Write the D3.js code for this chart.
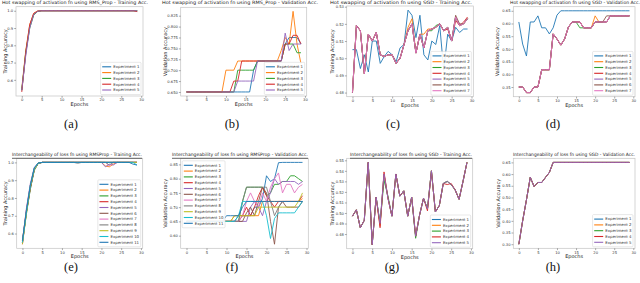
<!DOCTYPE html>
<html><head><meta charset="utf-8">
<script src="https://cdn.jsdelivr.net/npm/d3@7/dist/d3.min.js"></script>
<style>body{margin:0;background:#fff}svg{display:block}</style>
</head><body>
<svg id="c" width="640" height="283"></svg>
<script>
// ---------- shared ----------
const epochs = [0,1,2,3,4,5,6,7,8,9,10,11,12,13,14,15,16,17,18,19,20,21,22,23,24,25,26,27,28,29];
const xTicks = [0,5,10,15,20,25,30];
const expNames = ["Experiment 1","Experiment 2","Experiment 3","Experiment 4","Experiment 5","Experiment 6","Experiment 7","Experiment 8","Experiment 9","Experiment 10","Experiment 11"];
const palette = ["#1f77b4","#ff7f0e","#2ca02c","#d62728","#9467bd","#8c564b","#e377c2","#7f7f7f","#bcbd22","#17becf","#1f77b4"];

// ---------- (a) RMS_Prop activation swap, training ----------
const aExp1 = [0.54,0.75,0.91,0.98,0.997,1,1,1,1,1,1,1,1,1,1,1,1,1,1,1,1,1,1,1,1,1,1,1,1,1];
const aExp2 = [0.55,0.77,0.92,0.985,0.999,1,1,1,1,1,1,1,1,1,1,1,1,1,1,1,1,1,1,1,1,1,1,1,1,1];
const aExp3 = [0.54,0.76,0.90,0.975,0.996,1,1,1,1,1,1,1,1,1,1,1,1,1,1,1,1,1,1,1,1,1,1,1,1,1];
const aExp4 = [0.53,0.76,0.92,0.985,0.998,1,1,1,1,1,1,1,1,1,1,1,1,1,1,1,1,1,1,1,1,1,1,1,1,0.995];
const aExp5 = [0.54,0.74,0.90,0.978,0.997,1,1,1,1,1,1,1,1,1,1,1,1,1,1,1,1,1,1,1,1,1,1,1,1,1];
const aTicks = [0.6,0.7,0.8,0.9,1.0];

// ---------- (b) RMS_Prop activation swap, validation ----------
const bExp1 = [0.65,0.65,0.65,0.65,0.65,0.65,0.65,0.65,0.65,0.65,0.65,0.65,0.65,0.65,0.65,0.65,0.65,0.70,0.721,0.721,0.721,0.721,0.721,0.721,0.721,0.76,0.775,0.775,0.775,0.76];
const bExp2 = [0.65,0.65,0.65,0.65,0.65,0.65,0.65,0.65,0.65,0.65,0.70,0.70,0.70,0.721,0.721,0.721,0.721,0.721,0.721,0.721,0.721,0.721,0.721,0.721,0.745,0.775,0.76,0.835,0.76,0.715];
const bExp3 = [0.65,0.65,0.65,0.65,0.65,0.65,0.65,0.65,0.65,0.65,0.65,0.65,0.65,0.70,0.70,0.70,0.70,0.70,0.721,0.721,0.721,0.721,0.721,0.721,0.721,0.76,0.76,0.76,0.74,0.74];
const bExp4 = [0.65,0.65,0.65,0.65,0.65,0.65,0.65,0.65,0.65,0.65,0.65,0.65,0.675,0.675,0.721,0.721,0.721,0.721,0.721,0.721,0.721,0.721,0.721,0.721,0.721,0.76,0.76,0.78,0.78,0.76];
const bExp5 = [0.65,0.65,0.65,0.65,0.65,0.65,0.65,0.65,0.65,0.65,0.65,0.65,0.65,0.675,0.675,0.675,0.675,0.675,0.721,0.721,0.721,0.721,0.721,0.721,0.721,0.785,0.745,0.76,0.76,0.76];
const bTicks = [0.650,0.675,0.700,0.725,0.750,0.775,0.800,0.825];

// ---------- (c) SGD activation swap, training ----------
const cExp1 = [0.505,0.505,0.494,0.502,0.492,0.510,0.510,0.497,0.501,0.504,0.502,0.498,0.506,0.508,0.528,0.525,0.512,0.525,0.502,0.499,0.510,0.508,0.519,0.493,0.514,0.510,0.518,0.515,0.517,0.517];
const cExp2 = [0.480,0.519,0.516,0.491,0.514,0.510,0.515,0.502,0.501,0.502,0.502,0.497,0.500,0.508,0.518,0.523,0.503,0.514,0.514,0.517,0.517,0.518,0.520,0.516,0.518,0.510,0.524,0.519,0.520,0.523];
const cExp3 = [0.480,0.519,0.516,0.491,0.514,0.510,0.515,0.502,0.501,0.502,0.502,0.497,0.500,0.508,0.516,0.520,0.503,0.514,0.506,0.516,0.516,0.519,0.520,0.516,0.518,0.510,0.524,0.519,0.520,0.523];
const cExp4 = [0.480,0.519,0.516,0.491,0.514,0.510,0.515,0.502,0.501,0.502,0.502,0.497,0.500,0.508,0.516,0.520,0.503,0.514,0.506,0.516,0.517,0.518,0.520,0.516,0.517,0.510,0.522,0.519,0.521,0.524];
const cExp5 = [0.480,0.519,0.516,0.491,0.514,0.510,0.515,0.502,0.501,0.502,0.502,0.497,0.500,0.508,0.516,0.520,0.503,0.514,0.506,0.516,0.517,0.518,0.520,0.516,0.518,0.510,0.524,0.519,0.520,0.523];
const cExp6 = [0.480,0.519,0.516,0.491,0.514,0.510,0.515,0.502,0.501,0.502,0.502,0.497,0.500,0.508,0.516,0.520,0.503,0.514,0.506,0.516,0.517,0.518,0.520,0.516,0.518,0.510,0.525,0.520,0.520,0.523];
const cExp7 = [0.480,0.519,0.516,0.491,0.514,0.510,0.515,0.502,0.501,0.502,0.502,0.497,0.500,0.508,0.516,0.520,0.503,0.514,0.506,0.516,0.517,0.518,0.520,0.516,0.518,0.510,0.524,0.519,0.520,0.523];
const cTicks = [0.48,0.49,0.50,0.51,0.52,0.53];

// ---------- (d) SGD activation swap, validation ----------
const dExp1 = [0.606,0.519,0.472,0.606,0.606,0.630,0.583,0.583,0.559,0.583,0.633,0.65,0.65,0.65,0.65,0.65,0.65,0.65,0.65,0.65,0.65,0.65,0.65,0.65,0.65,0.65,0.65,0.65,0.65,0.65];
const dExp2 = [0.35,0.35,0.328,0.328,0.35,0.35,0.418,0.418,0.418,0.559,0.539,0.515,0.539,0.586,0.606,0.606,0.606,0.583,0.583,0.583,0.630,0.606,0.606,0.606,0.630,0.630,0.630,0.630,0.630,0.630];
const dExp3 = [0.35,0.35,0.328,0.328,0.35,0.35,0.418,0.418,0.418,0.559,0.539,0.515,0.539,0.586,0.606,0.606,0.583,0.583,0.583,0.583,0.606,0.606,0.606,0.606,0.630,0.630,0.630,0.630,0.630,0.630];
const dExp4 = [0.35,0.35,0.328,0.328,0.35,0.35,0.418,0.418,0.418,0.559,0.539,0.515,0.539,0.586,0.606,0.606,0.606,0.583,0.583,0.583,0.606,0.606,0.606,0.606,0.630,0.630,0.630,0.630,0.630,0.630];
const dExp5 = [0.35,0.35,0.328,0.328,0.35,0.35,0.418,0.418,0.418,0.559,0.539,0.515,0.539,0.586,0.606,0.606,0.606,0.583,0.583,0.583,0.606,0.606,0.606,0.606,0.630,0.630,0.630,0.630,0.630,0.630];
const dExp6 = [0.35,0.35,0.328,0.328,0.35,0.35,0.418,0.418,0.418,0.559,0.539,0.515,0.539,0.586,0.606,0.606,0.606,0.583,0.583,0.583,0.606,0.606,0.606,0.630,0.630,0.630,0.630,0.630,0.630,0.630];
const dExp7 = [0.35,0.35,0.328,0.328,0.35,0.35,0.418,0.418,0.418,0.559,0.539,0.515,0.539,0.586,0.606,0.606,0.606,0.583,0.583,0.583,0.606,0.606,0.606,0.606,0.630,0.630,0.630,0.630,0.630,0.630];
const dTicks = [0.35,0.40,0.45,0.50,0.55,0.60,0.65];

// ---------- (e) RMSProp loss interchange, training ----------
const eExp1  = [0.55,0.72,0.86,0.96,0.995,1,1,1,1,1,1,1,1,1,1,1,1,1,1,1,1,1,1,1,1,1,1,1,1,1];
const eExp2  = [0.56,0.73,0.87,0.965,0.996,1,1,1,1,1,1,1,1,1,1,1,1,1,1,1,1,0.98,0.975,0.99,1,1,1,1,1,1];
const eExp3  = [0.55,0.71,0.85,0.955,0.994,1,1,1,1,1,1,1,1,1,1,1,1,1,1,1,1,1,0.985,1,1,1,1,1,1,1];
const eExp4  = [0.54,0.72,0.86,0.96,0.995,1,1,1,1,1,1,1,1,1,1,1,1,1,1,1,1,1,1,1,1,1,1,1,1,1];
const eExp5  = [0.55,0.74,0.88,0.97,0.997,1,1,1,1,1,1,1,1,1,1,1,1,1,1,1,1,0.975,0.99,0.985,1,1,1,1,1,1];
const eExp6  = [0.56,0.72,0.85,0.96,0.994,1,1,1,1,1,1,1,1,1,1,1,1,1,1,1,1,1,1,1,1,1,1,1,1,1];
const eExp7  = [0.55,0.73,0.87,0.965,0.996,1,1,1,1,1,1,1,1,1,1,1,1,1,1,1,1,1,0.98,1,1,1,1,1,1,1];
const eExp8  = [0.55,0.72,0.86,0.96,0.995,1,1,1,1,1,1,1,1,1,0.995,1,1,1,1,1,1,1,1,1,1,1,1,1,1,1];
const eExp9  = [0.54,0.71,0.86,0.96,0.995,1,1,1,1,1,1,1,1,1,1,1,1,1,1,1,1,1,1,1,1,1,1,1,1,1];
const eExp10 = [0.55,0.72,0.87,0.965,0.996,1,1,1,1,1,1,1,1,1,1,1,1,1,1,1,1,1,1,1,1,1,1,1,1,0.985];
const eExp11 = [0.56,0.73,0.87,0.97,0.997,1,1,1,1,1,1,1,1,1,1,1,1,1,1,1,1,1,1,1,1,1,1,1,0.99,0.985];
const eTicks = [0.6,0.7,0.8,0.9,1.0];

// ---------- (f) RMSProp loss interchange, validation ----------
const fExp1  = [0.65,0.65,0.65,0.65,0.65,0.65,0.65,0.65,0.65,0.65,0.65,0.65,0.65,0.67,0.67,0.67,0.67,0.70,0.70,0.73,0.81,0.79,0.80,0.856,0.857,0.857,0.857,0.857,0.857,0.857];
const fExp2  = [0.65,0.65,0.65,0.65,0.65,0.65,0.65,0.65,0.65,0.65,0.65,0.65,0.67,0.67,0.67,0.67,0.67,0.67,0.67,0.72,0.72,0.72,0.72,0.72,0.72,0.72,0.72,0.72,0.72,0.73];
const fExp3  = [0.65,0.65,0.65,0.65,0.65,0.65,0.65,0.65,0.65,0.65,0.65,0.65,0.65,0.65,0.72,0.77,0.77,0.77,0.77,0.77,0.74,0.75,0.78,0.78,0.79,0.79,0.81,0.81,0.80,0.79];
const fExp4  = [0.65,0.65,0.65,0.65,0.65,0.65,0.65,0.65,0.65,0.65,0.65,0.65,0.65,0.65,0.67,0.70,0.67,0.70,0.74,0.77,0.74,0.72,0.70,0.72,0.72,0.72,0.72,0.72,0.72,0.74];
const fExp5  = [0.65,0.65,0.65,0.65,0.65,0.65,0.65,0.65,0.65,0.65,0.65,0.65,0.65,0.65,0.65,0.65,0.70,0.72,0.70,0.67,0.72,0.75,0.80,0.78,0.79,0.79,0.79,0.79,0.78,0.79];
const fExp6  = [0.65,0.65,0.65,0.65,0.65,0.65,0.65,0.65,0.65,0.65,0.65,0.65,0.65,0.65,0.65,0.68,0.70,0.67,0.72,0.77,0.75,0.65,0.57,0.70,0.72,0.70,0.70,0.70,0.70,0.72];
const fExp7  = [0.65,0.65,0.65,0.65,0.65,0.65,0.65,0.65,0.65,0.65,0.65,0.65,0.65,0.65,0.67,0.72,0.75,0.72,0.70,0.75,0.72,0.77,0.80,0.82,0.75,0.78,0.78,0.75,0.77,0.78];
const fExp8  = [0.65,0.65,0.65,0.65,0.65,0.65,0.65,0.65,0.65,0.65,0.65,0.65,0.65,0.65,0.72,0.77,0.77,0.77,0.77,0.77,0.77,0.72,0.67,0.70,0.72,0.72,0.72,0.72,0.72,0.72];
const fExp9  = [0.65,0.65,0.65,0.65,0.65,0.65,0.65,0.65,0.65,0.65,0.65,0.65,0.67,0.67,0.67,0.67,0.67,0.67,0.70,0.70,0.70,0.70,0.70,0.70,0.70,0.70,0.70,0.70,0.72,0.75];
const fExp10 = [0.65,0.65,0.65,0.65,0.65,0.65,0.65,0.65,0.65,0.65,0.65,0.65,0.65,0.67,0.72,0.72,0.72,0.72,0.72,0.72,0.67,0.59,0.66,0.68,0.68,0.68,0.68,0.68,0.70,0.72];
const fExp11 = [0.65,0.65,0.65,0.65,0.65,0.65,0.65,0.65,0.65,0.65,0.67,0.67,0.67,0.67,0.70,0.72,0.72,0.72,0.72,0.72,0.72,0.72,0.72,0.72,0.72,0.72,0.72,0.72,0.72,0.72];
const fTicks = [0.60,0.65,0.70,0.75,0.80,0.85];

// ---------- (g) SGD loss interchange, training ----------
const gExp1 = [0.497,0.503,0.486,0.493,0.548,0.470,0.515,0.490,0.537,0.514,0.497,0.537,0.516,0.521,0.497,0.515,0.478,0.498,0.514,0.504,0.540,0.501,0.507,0.528,0.530,0.527,0.522,0.513,0.530,0.548];
const gExp2 = [0.497,0.503,0.486,0.493,0.548,0.470,0.515,0.488,0.537,0.514,0.497,0.537,0.516,0.521,0.497,0.515,0.478,0.498,0.514,0.504,0.540,0.501,0.507,0.528,0.530,0.527,0.522,0.513,0.530,0.548];
const gExp3 = [0.497,0.503,0.486,0.493,0.548,0.470,0.515,0.490,0.531,0.516,0.497,0.537,0.516,0.521,0.497,0.515,0.476,0.498,0.514,0.504,0.540,0.501,0.507,0.528,0.530,0.527,0.522,0.513,0.530,0.548];
const gExp4 = [0.497,0.503,0.486,0.493,0.548,0.470,0.515,0.486,0.539,0.514,0.497,0.537,0.516,0.521,0.497,0.515,0.478,0.498,0.514,0.502,0.540,0.501,0.507,0.528,0.527,0.528,0.522,0.513,0.530,0.548];
const gExp5 = [0.497,0.503,0.486,0.493,0.548,0.470,0.515,0.490,0.537,0.514,0.497,0.537,0.516,0.521,0.497,0.515,0.478,0.498,0.514,0.504,0.540,0.501,0.507,0.528,0.530,0.527,0.522,0.513,0.530,0.548];
const gTicks = [0.48,0.49,0.50,0.51,0.52,0.53,0.54,0.55];

// ---------- (h) SGD loss interchange, validation ----------
const hExp1 = [0.30,0.40,0.49,0.586,0.547,0.564,0.564,0.586,0.607,0.65,0.65,0.65,0.65,0.65,0.65,0.65,0.65,0.65,0.65,0.65,0.65,0.65,0.65,0.65,0.65,0.65,0.65,0.65,0.65,0.65];
const hExp2 = [0.30,0.40,0.49,0.586,0.547,0.564,0.564,0.586,0.607,0.65,0.65,0.65,0.65,0.65,0.65,0.65,0.65,0.65,0.65,0.65,0.65,0.65,0.65,0.65,0.65,0.65,0.65,0.65,0.65,0.65];
const hExp3 = [0.30,0.40,0.49,0.586,0.547,0.564,0.564,0.586,0.607,0.65,0.65,0.65,0.65,0.65,0.65,0.65,0.65,0.65,0.65,0.65,0.65,0.65,0.65,0.65,0.65,0.65,0.65,0.65,0.65,0.65];
const hExp4 = [0.30,0.40,0.49,0.586,0.547,0.564,0.564,0.586,0.607,0.65,0.65,0.65,0.65,0.65,0.65,0.65,0.65,0.65,0.65,0.65,0.65,0.65,0.65,0.65,0.65,0.65,0.65,0.65,0.65,0.65];
const hExp5 = [0.30,0.40,0.49,0.586,0.547,0.564,0.564,0.586,0.607,0.65,0.65,0.65,0.65,0.65,0.65,0.65,0.65,0.65,0.65,0.65,0.65,0.65,0.65,0.65,0.65,0.65,0.65,0.65,0.65,0.65];
const hTicks = [0.30,0.35,0.40,0.45,0.50,0.55,0.60,0.65];

// ---------- layout ----------
const panels = [
  {title:"Hot swapping of activation fn using RMS_Prop - Training Acc.", ylab:"Training Accuracy", series:[aExp1,aExp2,aExp3,aExp4,aExp5], ticks:aTicks, fmt:".1f",
   box:[16,6.7,143,96], tc:75, tl:146, ty:4.2, ylx:5, legend:"lr", cap:"(a)", capx:71, capy:128, rule:false},
  {title:"Hot swapping of activation fn using RMS_Prop - Validation Acc.", ylab:"Validation Accuracy", series:[bExp1,bExp2,bExp3,bExp4,bExp5], ticks:bTicks, fmt:".3f",
   box:[180.7,7.3,306.7,96], tc:240, tl:156, ty:4.2, ylx:165, legend:"lr", cap:"(b)", capx:232, capy:128, rule:false},
  {title:"Hot swapping of activation fn using SGD - Training Acc.", ylab:"Training Accuracy", series:[cExp1,cExp2,cExp3,cExp4,cExp5,cExp6,cExp7], ticks:cTicks, fmt:".2f",
   box:[346.7,6,473.3,96.7], tc:401, tl:142, ty:4.2, ylx:332, legend:"lr", cap:"(c)", capx:393, capy:128, rule:false},
  {title:"Hot swapping of activation fn using SGD - Validation Acc.", ylab:"Validation Accuracy", series:[dExp1,dExp2,dExp3,dExp4,dExp5,dExp6,dExp7], ticks:dTicks, fmt:".2f",
   box:[513.3,6.7,635,96.7], tc:575, tl:130, ty:4.2, ylx:497.5, legend:"lr", cap:"(d)", capx:553, capy:128, rule:false},
  {title:"Interchangeability of loss fn using RMSProp - Training Acc.", ylab:"Training Accuracy", series:[eExp1,eExp2,eExp3,eExp4,eExp5,eExp6,eExp7,eExp8,eExp9,eExp10,eExp11], ticks:eTicks, fmt:".1f",
   box:[16.7,158.3,142.7,248.3], tc:77, tl:130, ty:155.6, ylx:5, legend:"lr", cap:"(e)", capx:71, capy:271, rule:true},
  {title:"Interchangeability of loss fn using RMSProp - Validation Acc.", ylab:"Validation Accuracy", series:[fExp1,fExp2,fExp3,fExp4,fExp5,fExp6,fExp7,fExp8,fExp9,fExp10,fExp11], ticks:fTicks, fmt:".2f",
   box:[180.7,158.3,308.3,248.3], tc:240, tl:136, ty:155.6, ylx:165, legend:"ul", cap:"(f)", capx:232, capy:271, rule:true},
  {title:"Interchangeability of loss fn using SGD - Training Acc.", ylab:"Training Accuracy", series:[gExp1,gExp2,gExp3,gExp4,gExp5], ticks:gTicks, fmt:".2f",
   box:[346.7,158.3,472.7,248.7], tc:411, tl:122, ty:155.6, ylx:332.7, legend:"lr", cap:"(g)", capx:392, capy:271, rule:true},
  {title:"Interchangeability of loss fn using SGD - Validation Acc.", ylab:"Validation Accuracy", series:[hExp1,hExp2,hExp3,hExp4,hExp5], ticks:hTicks, fmt:".2f",
   box:[513.3,158.3,635,248.3], tc:574, tl:122, ty:155.6, ylx:498.3, legend:"lr", cap:"(h)", capx:553, capy:271, rule:false}
];

const svg = d3.select("#c");
const SANS = "'DejaVu Sans', sans-serif";

panels.forEach((p, pi) => {
  const [L,T,R,B] = p.box;
  const all = p.series.flat();
  const [mn, mx] = d3.extent(all);
  const m = (mx - mn) * 0.05;
  const x = d3.scaleLinear().domain([-1.45, 30.45]).range([L, R]);
  const y = d3.scaleLinear().domain([mn - m, mx + m]).range([B, T]);
  const g = svg.append("g");

  const clipId = "clip" + pi;
  svg.append("clipPath").attr("id", clipId).append("rect")
     .attr("x", L).attr("y", T).attr("width", R - L).attr("height", B - T);

  // frame
  g.append("rect").attr("x", L).attr("y", T).attr("width", R - L).attr("height", B - T)
   .attr("fill", "#fff").attr("stroke", "#c4c4c4").attr("stroke-width", 0.7);

  // axes
  const xa = g.append("g").attr("transform", `translate(0,${B})`)
    .call(d3.axisBottom(x).tickValues(xTicks).tickSize(1.8).tickPadding(1).tickFormat(d3.format("d")));
  const ya = g.append("g").attr("transform", `translate(${L},0)`)
    .call(d3.axisLeft(y).tickValues(p.ticks).tickSize(1.8).tickPadding(1).tickFormat(d3.format(p.fmt)));
  [xa, ya].forEach(a => {
    a.select(".domain").remove();
    a.selectAll("line").attr("stroke", "#555").attr("stroke-width", 0.5);
    a.selectAll("text").attr("font-family", SANS).attr("font-size", 3.7).attr("fill", "#333");
  });

  // lines
  const line = d3.line().x((d, i) => x(epochs[i])).y(d => y(d));
  const lg = g.append("g").attr("clip-path", `url(#${clipId})`);
  p.series.forEach((s, i) => {
    lg.append("path").datum(s).attr("d", line).attr("fill", "none")
      .attr("stroke", palette[i]).attr("stroke-width", 0.9)
      .attr("stroke-linejoin", "round");
  });

  // legend
  const n = p.series.length;
  const rowH = 5.8, pad = 1.6, lineLen = 9, fs = 3.9;
  const leg = g.append("g");
  const items = leg.append("g");
  let maxW = 0;
  p.series.forEach((s, i) => {
    const t = items.append("text").attr("x", pad + lineLen + 2).attr("y", pad + rowH * i + rowH / 2)
      .attr("dy", "0.35em").attr("font-family", SANS).attr("font-size", fs).attr("fill", "#333")
      .text(expNames[i]);
    maxW = Math.max(maxW, t.node().getComputedTextLength());
    items.append("line").attr("x1", pad).attr("x2", pad + lineLen)
      .attr("y1", pad + rowH * i + rowH / 2).attr("y2", pad + rowH * i + rowH / 2)
      .attr("stroke", palette[i]).attr("stroke-width", 1.1);
  });
  const lw = pad + lineLen + 2 + maxW + pad, lh = pad * 2 + rowH * n;
  leg.insert("rect", ":first-child").attr("width", lw).attr("height", lh).attr("rx", 1)
     .attr("fill", "#fff").attr("fill-opacity", 0.9).attr("stroke", "#d0d0d0").attr("stroke-width", 0.5);
  const lx = p.legend === "ul" ? L + 1.5 : R - 2 - lw;
  const ly = p.legend === "ul" ? T + 2.5 : B - 1.5 - lh;
  leg.attr("transform", `translate(${lx},${ly})`);

  // title
  g.append("text").attr("x", p.tc).attr("y", p.ty).attr("text-anchor", "middle")
    .attr("font-family", SANS).attr("font-size", 4.5).attr("fill", "#222")
    .attr("textLength", p.tl).attr("lengthAdjust", "spacingAndGlyphs").text(p.title);
  if (p.rule) {
    g.append("line").attr("x1", p.tc - p.tl / 2).attr("x2", p.tc + p.tl / 2)
     .attr("y1", T).attr("y2", T).attr("stroke", "#555").attr("stroke-width", 0.9);
  }

  // axis labels
  g.append("text").attr("x", (L + R) / 2).attr("y", B + 10).attr("text-anchor", "middle")
    .attr("font-family", SANS).attr("font-size", 5).attr("fill", "#222").text("Epochs");
  g.append("text").attr("transform", `translate(${p.ylx},${(T + B) / 2}) rotate(-90)`)
    .attr("text-anchor", "middle").attr("dy", "0.35em")
    .attr("font-family", SANS).attr("font-size", 5).attr("fill", "#222").text(p.ylab);

  // caption
  svg.append("text").attr("x", p.capx).attr("y", p.capy).attr("text-anchor", "middle")
    .attr("font-family", "'Liberation Serif', 'DejaVu Serif', serif").attr("font-size", 12.5)
    .attr("fill", "#111").text(p.cap);
});
</script>
</body></html>
